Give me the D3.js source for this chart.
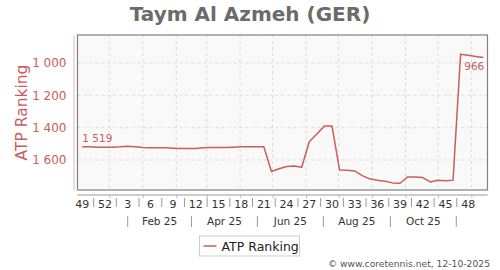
<!DOCTYPE html>
<html>
<head>
<meta charset="utf-8">
<script src="https://cdn.jsdelivr.net/npm/d3@7"></script>
<style>
body { margin: 0; background: #fff; }
text { font-family: "DejaVu Sans", sans-serif; }
</style>
</head>
<body>
<svg id="chart"></svg>
<script>
var title = "Taym Al Azmeh (GER)";
var seriesName = "ATP Ranking";
var firstWeek = new Date(Date.UTC(2024, 10, 20));
var rankings = [1519, 1519, 1521, 1521, 1521, 1519, 1515, 1519, 1523, 1525,
    1525, 1525, 1527, 1529, 1529, 1529, 1525, 1523, 1523, 1523,
    1521, 1519, 1519, 1519, 1519, 1672, 1655, 1641, 1637, 1645,
    1487, 1439, 1390, 1390, 1662, 1664, 1668, 1697, 1717, 1726,
    1732, 1742, 1744, 1705, 1706, 1709, 1736, 1726, 1728, 1726,
    946, 953, 960, 966];
var weekLabels = [49, 52, 3, 6, 9, 12, 15, 18, 21, 24, 27, 30, 33, 36, 39, 42, 45, 48];
var monthLabels = ["Feb 25", "Apr 25", "Jun 25", "Aug 25", "Oct 25"];
var monthBreaks = [[2025, 0], [2025, 2], [2025, 4], [2025, 6], [2025, 8], [2025, 10]];
var gridMonths = [[2024, 11], [2025, 0], [2025, 1], [2025, 2], [2025, 3], [2025, 4],
    [2025, 5], [2025, 6], [2025, 7], [2025, 8], [2025, 9], [2025, 10]];
var rankTicks = [1000, 1200, 1400, 1600];
var credit = "\u00a9 www.coretennis.net, 12-10-2025";

var width = 500, height = 270;
var plot = { left: 77.5, right: 487.5, top: 35, bottom: 190 };
var red = "#cd5c5c";

var svg = d3.select("#chart").attr("width", width).attr("height", height);
svg.append("rect").attr("width", width).attr("height", height).attr("fill", "#fff");

var dates = rankings.map(function (d, i) { return d3.utcDay.offset(firstWeek, 7 * i); });
var data = rankings.map(function (d, i) { return { date: dates[i], rank: d }; });

var x = d3.scaleUtc()
    .domain([dates[0], dates[dates.length - 1]])
    .range([plot.left + 4.8, plot.right - 4.2]);
var y = d3.scaleLinear()
    .domain([827, 1786])
    .range([plot.top, plot.bottom]);

var fmt = d3.formatLocale({ decimal: ".", thousands: " ", grouping: [3], currency: ["", ""] }).format(",d");

// plot background + frame
svg.append("rect")
    .attr("x", plot.left).attr("y", plot.top)
    .attr("width", plot.right - plot.left).attr("height", plot.bottom - plot.top)
    .attr("fill", "#f9f9f9");

var gridDates = gridMonths.map(function (m) { return new Date(Date.UTC(m[0], m[1], 15)); });

svg.append("g").selectAll("line")
    .data(gridDates)
    .enter().append("line")
    .attr("x1", function (d) { return x(d); }).attr("x2", function (d) { return x(d); })
    .attr("y1", plot.top).attr("y2", plot.bottom)
    .attr("stroke", "#dcdcdc").attr("stroke-dasharray", "3,3");

svg.append("g").selectAll("line")
    .data(rankTicks)
    .enter().append("line")
    .attr("x1", plot.left).attr("x2", plot.right)
    .attr("y1", function (d) { return y(d); }).attr("y2", function (d) { return y(d); })
    .attr("stroke", "#dcdcdc").attr("stroke-dasharray", "3,3");

svg.append("rect")
    .attr("x", plot.left).attr("y", plot.top)
    .attr("width", plot.right - plot.left).attr("height", plot.bottom - plot.top)
    .attr("fill", "none").attr("stroke", "#808080").attr("stroke-width", 1.2);

// y axis
var yAxis = svg.append("g")
    .attr("transform", "translate(73.5,0)")
    .call(d3.axisLeft(y).tickValues(rankTicks).tickSize(0).tickPadding(7).tickFormat(fmt));
yAxis.select(".domain").attr("stroke", "#e3b5b5");
yAxis.selectAll("text").attr("fill", red).attr("font-size", 12).attr("font-family", "DejaVu Sans");

svg.append("text")
    .attr("transform", "rotate(-90)")
    .attr("x", -(plot.top + plot.bottom) / 2).attr("y", 27)
    .attr("text-anchor", "middle")
    .attr("font-size", 15.5)
    .attr("fill", red)
    .text(seriesName);

// x axis
svg.append("line")
    .attr("x1", plot.left).attr("x2", plot.right)
    .attr("y1", 195).attr("y2", 195)
    .attr("stroke", "#999").attr("stroke-width", 1.2);

var xAxis = svg.append("g")
    .attr("transform", "translate(0,195)")
    .call(d3.axisBottom(x).tickValues(gridDates).tickSize(3).tickSizeOuter(0).tickFormat(""));
xAxis.select(".domain").remove();
xAxis.selectAll("line").attr("stroke", "#bbb");

var weekPos = weekLabels.map(function (w, k) { return x(dates[3 * k]); });

svg.append("g").selectAll("text")
    .data(weekLabels)
    .enter().append("text")
    .attr("x", function (d, k) { return weekPos[k]; })
    .attr("y", 207.5)
    .attr("text-anchor", "middle")
    .attr("font-size", 11)
    .attr("fill", "#333")
    .text(function (d) { return d; });

svg.append("g").selectAll("line")
    .data(weekPos.slice(1))
    .enter().append("line")
    .attr("x1", function (d, k) { return (d + weekPos[k]) / 2; })
    .attr("x2", function (d, k) { return (d + weekPos[k]) / 2; })
    .attr("y1", 198).attr("y2", 207)
    .attr("stroke", "#999");

var breakPos = monthBreaks.map(function (m) { return x(new Date(Date.UTC(m[0], m[1], 1))); });

svg.append("g").selectAll("line")
    .data(breakPos)
    .enter().append("line")
    .attr("x1", function (d) { return d; }).attr("x2", function (d) { return d; })
    .attr("y1", 216).attr("y2", 227)
    .attr("stroke", "#999");

svg.append("g").selectAll("text")
    .data(monthLabels)
    .enter().append("text")
    .attr("x", function (d, k) { return (breakPos[k] + breakPos[k + 1]) / 2; })
    .attr("y", 225)
    .attr("text-anchor", "middle")
    .attr("font-size", 10.5)
    .attr("fill", "#333")
    .text(function (d) { return d; });

// line
var line = d3.line()
    .x(function (d) { return x(d.date); })
    .y(function (d) { return y(d.rank); });

svg.append("path")
    .datum(data)
    .attr("fill", "none")
    .attr("stroke", red)
    .attr("stroke-width", 1.5)
    .attr("stroke-linejoin", "round")
    .attr("d", line);

var first = data[0], last = data[data.length - 1];
svg.append("text")
    .attr("x", x(first.date)).attr("y", y(first.rank) - 5)
    .attr("font-size", 10.5).attr("fill", red)
    .text(fmt(first.rank));
svg.append("text")
    .attr("x", x(last.date) + 1).attr("y", y(last.rank) + 13)
    .attr("text-anchor", "end")
    .attr("font-size", 10.5).attr("fill", red)
    .text(fmt(last.rank));

// title
svg.append("text")
    .attr("x", width / 2).attr("y", 21)
    .attr("text-anchor", "middle")
    .attr("font-size", 20).attr("font-weight", "bold")
    .attr("fill", "#6b6b6b")
    .text(title);

// legend
var legend = svg.append("g").attr("transform", "translate(199.5,236)");
legend.append("rect")
    .attr("width", 100).attr("height", 20)
    .attr("fill", "#fff").attr("stroke", "#ccc");
legend.append("line")
    .attr("x1", 4).attr("x2", 17).attr("y1", 10).attr("y2", 10)
    .attr("stroke", red).attr("stroke-width", 1.5);
legend.append("text")
    .attr("x", 22).attr("y", 14.5)
    .attr("font-size", 12.5).attr("fill", "#222")
    .text(seriesName);

svg.append("text")
    .attr("x", 490).attr("y", 267)
    .attr("text-anchor", "end")
    .attr("font-size", 9.2).attr("fill", "#555")
    .text(credit);
</script>
</body>
</html>
